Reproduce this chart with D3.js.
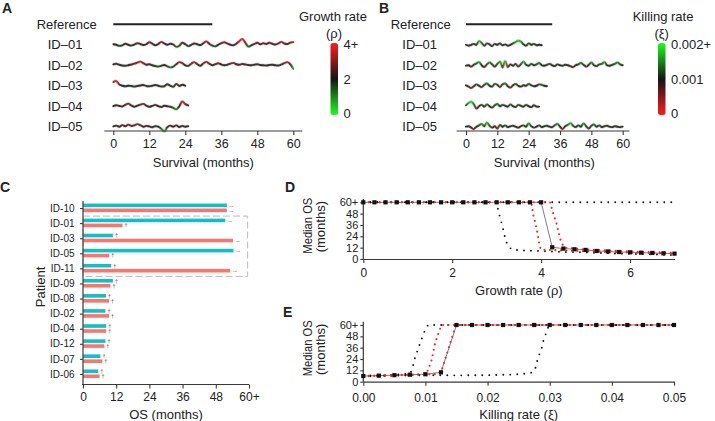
<!DOCTYPE html>
<html>
<head>
<meta charset="utf-8">
<script src="https://cdn.jsdelivr.net/npm/d3@7/dist/d3.min.js"></script>
<style>
html,body{margin:0;padding:0;background:#fff;}
svg text{font-family:"Liberation Sans",Arial,Helvetica,sans-serif;fill:#222;}
</style>
</head>
<body>
<svg width="715" height="421"></svg>
<script>
// ================= DATA =================
// Panels A & B : simulated parameter traces along survival time (one value per month)
const traceIds = ["ID–01","ID–02","ID–03","ID–04","ID–05"];
const survivalTicks = [0,12,24,36,48,60];
const referenceSurvival = 33; // months

// growth rate rho
const growthRate01 = [2.2,2.0,1.6,1.8,2.4,2.0,1.7,2.1,2.6,2.3, 1.9,2.2,3.0,2.4,1.8,2.3,3.1,2.5,2.0,2.4, 2.1,1.2,1.6,2.8,2.2,1.5,2.0,2.5,2.2,1.9, 2.6,3.3,2.4,1.7,1.4,2.0,2.6,3.0,2.5,2.0, 1.8,2.4,3.4,4.2,2.8,1.3,1.8,2.3,2.8,2.2, 2.6,2.3,2.8,2.4,2.1,2.5,3.1,2.5,2.3,2.8, 3.0];
const growthRate02 = [2.3,2.6,2.2,1.9,1.8,2.0,2.3,2.6,3.0,3.4, 2.8,2.2,2.4,2.0,1.7,1.5,1.8,2.1,1.6,1.2, 1.5,2.4,3.2,2.8,2.0,1.8,2.6,3.2,2.4,1.8, 2.7,3.3,2.6,2.0,2.4,2.8,2.3,2.0,2.2,2.6, 2.9,2.4,2.2,2.5,2.3,2.1,2.0,2.2,2.4,2.1, 2.0,1.9,2.1,2.2,2.0,1.9,2.3,2.8,3.2,2.4, 0.6];
const growthRate03 = [3.4,3.8,2.5,2.0,1.8,2.0,1.9,1.7,1.9,2.1, 2.3,1.9,1.8,2.0,2.3,2.0,1.7,1.8,2.6,2.0, 1.6,2.7,1.9,2.4,2.0];
const growthRate04 = [2.0,2.4,2.1,1.9,2.5,3.0,2.3,1.8,2.2,2.6, 2.9,2.2,1.8,2.1,2.5,2.0,1.7,2.2,2.0,1.8, 1.4,0.8,2.0,3.8,2.8,2.3];
const growthRate05 = [2.1,2.4,2.0,2.6,2.2,2.8,2.3,2.5,3.0,2.6, 2.0,2.3,2.1,1.8,2.2,2.0,1.2,0.2,1.8,2.4, 2.0,2.5,1.9,2.3,2.0,2.2];
const growthTraces = [growthRate01,growthRate02,growthRate03,growthRate04,growthRate05];
const growthLegendValues = [0,2,4];
const growthLegendLabels = ["0","2","4+"];

// killing rate xi (in units of 1e-3)
const killingRate01 = [1.0,0.8,1.0,1.2,1.0,1.8,1.4,0.8,1.3,1.1, 0.7,1.2,1.0,1.3,0.9,1.1,0.8,1.0,1.3,1.6, 1.9,1.7,1.1,0.8,1.3,1.0,1.2,0.9,1.0,0.9];
const killingRate02 = [0.9,1.0,0.7,1.1,1.4,1.7,1.0,0.6,1.2,1.6, 1.2,0.7,1.3,1.8,0.5,1.9,0.6,1.2,0.9,1.3, 0.7,1.2,1.8,1.1,0.9,1.3,1.0,1.2,1.5,1.0, 0.9,1.1,1.3,1.0,0.8,1.2,1.0,0.9,1.1,1.0, 0.8,0.6,1.0,1.2,1.5,1.1,0.7,1.1,1.6,1.0, 0.8,1.2,1.3,1.7,1.0,0.9,1.1,1.3,1.6,1.2, 1.0];
const killingRate03 = [1.1,0.8,0.5,0.9,1.3,1.0,0.7,1.2,1.5,1.0, 0.8,1.4,1.2,0.7,1.3,1.5,0.9,0.6,1.1,1.4, 1.0,0.8,1.1,1.0,1.4,1.1,0.9,1.0,1.3,1.2, 1.0,0.9];
const killingRate04 = [1.2,1.7,2.0,1.4,0.5,1.0,1.3,0.9,1.4,1.0, 0.7,1.2,1.5,1.0,1.3,1.1,0.9,1.4,1.0,0.8, 1.3,1.1,0.9,1.3,1.0,0.8,1.2,0.9,0.9];
const killingRate05 = [1.0,1.1,0.8,0.5,1.0,1.3,1.6,1.1,1.9,1.2, 0.8,1.1,0.6,1.4,1.0,1.3,0.9,1.1,1.2,1.0, 0.8,1.1,1.3,1.0,1.7,1.1,0.8,1.0,1.3,0.9, 1.1,1.2,1.0,0.9,1.3,1.6,1.0,0.5,1.1,1.4, 1.8,1.2,0.9,1.3,1.0,1.7,1.1,0.6,1.2,1.5, 1.0,1.3,0.9,1.1,1.2,1.0,0.9,1.1,1.0,0.9, 1.0];
const killingTraces = [killingRate01,killingRate02,killingRate03,killingRate04,killingRate05].map(a => a.map(v => v / 1000));
const killingLegendValues = [0,0.001,0.002];
const killingLegendLabels = ["0","0.001","0.002+"];

// Panel C : overall survival per patient
const osPatients = ["ID-10","ID-01","ID-03","ID-05","ID-11","ID-09","ID-08","ID-02","ID-04","ID-12","ID-07","ID-06"];
const osCyan   = [52,51.4,10.8,54.4,10.2,10.8,8.3,8.1,8.4,8.1,6.3,5.5];
const osSalmon = [52,14.3,54.2,9.5,53.2,9.9,9.4,9.4,8.4,7.7,7.0,6.0];
const osCyanMark   = ["→","→","†","→","†","†","†","†","†","†","†","†"];
const osSalmonMark = ["→","†","→","†","→","†","†","†","†","†","†","†"];
const osBoxed = ["ID-01","ID-03","ID-05","ID-11"];
const osTicks = [0,12,24,36,48,60];
const osTickLabels = ["0","12","24","36","48","60+"];

// Panel D : median OS vs growth rate
const growthGrid = [0,0.25,0.5,0.75,1,1.25,1.5,1.75,2,2.25,2.5,2.75,3,3.25,3.5,3.75,4,4.25,4.5,4.75,5,5.25,5.5,5.75,6,6.25,6.5,6.75,7];
const medianOSGrowth = [60,60,60,60,60,60,60,60,60,60,60,60,60,60,60,60,60,12.4,11,10.3,9.6,8.5,8,7.4,7.1,6.7,6.4,6,5.7];
const growthRedAX = [0,3.78,3.82,3.88,3.92,3.95,3.99,4.25,4.5,5,5.5,6,6.5,7];
const growthRedAY = [60,60,47,36,27,18,10,9.5,9,8.2,7.5,6.8,6.2,5.6];
const growthRedBX = [0,4.2,4.28,4.35,4.4,4.45,4.52,4.75,5,5.5,6,6.5,7];
const growthRedBY = [60,60,47,37,27,18,12,11,10,9,8,7.2,6.5];
const growthBlackAX = [0,3.0,3.04,3.11,3.16,3.2,3.26,3.34,3.6,4,4.5,5,5.5,6,6.5,7];
const growthBlackAY = [60,60,50,38,29,20,13.6,10,9,8.5,7.5,7,6,5.5,5,4];
const growthBlackBX = [0,7];
const growthBlackBY = [60,60];
const growthAxisTicks = [0,2,4,6];

// Panel E : median OS vs killing rate
const killGrid = [0,0.0025,0.005,0.0075,0.01,0.0125,0.015,0.0175,0.02,0.0225,0.025,0.0275,0.03,0.0325,0.035,0.0375,0.04,0.0425,0.045,0.0475,0.05];
const medianOSKill = [6.0,6.4,6.9,7.4,7.9,9.9,60,60,60,60,60,60,60,60,60,60,60,60,60,60,60];
const killRedAX = [0,0.0025,0.005,0.0075,0.0099,0.0104,0.011,0.0115,0.0119,0.0126,0.05];
const killRedAY = [6.2,6.6,7.1,7.6,7.8,12,23,39,48,60,60];
const killRedBX = [0,0.0025,0.005,0.0075,0.01,0.0115,0.0125,0.0149,0.05];
const killRedBY = [5.8,6.2,6.7,7.2,7.7,8,9.5,60,60];
const killBlackAX = [0,0.0025,0.005,0.0075,0.0078,0.0083,0.0091,0.0099,0.0104,0.05];
const killBlackAY = [6.3,6.8,7.3,8.5,12,25,40,54,60,60];
const killBlackBX = [0,0.0025,0.005,0.0075,0.01,0.015,0.02,0.024,0.026,0.027,0.0276,0.0281,0.0287,0.029,0.0295,0.0299,0.05];
const killBlackBY = [5.6,6,6.4,6.8,6.9,6.7,6.9,7.5,8.5,9.5,12,25,35,44,53,60,60];
const killAxisTicks = [0,0.01,0.02,0.03,0.04,0.05];

// ================= DRAWING =================
const svg = d3.select("svg");
const defs = svg.append("defs");
const AX = "#3a3a3a";

function styleAxis(g, fs) {
  g.select(".domain").attr("stroke", AX).attr("stroke-width", 1.2);
  g.selectAll(".tick line").attr("stroke", AX).attr("stroke-width", 1.1);
  g.selectAll(".tick text").attr("font-size", fs).attr("font-family", null).style("fill", "#222");
  g.attr("font-family", null);
}
function panelLabel(t, x, y) {
  svg.append("text").attr("x", x).attr("y", y).attr("font-size", 14).attr("font-weight", "bold").text(t);
}

// ---------- Panels A and B ----------
function tracePanel(cfg) {
  const g = svg.append("g");
  const x = d3.scaleLinear().domain([0, 60]).range(cfg.xRange);
  const rows = ["Reference", ...traceIds];
  const y = d3.scalePoint().domain(rows).range([24.3, 126.7]);
  const dev = d3.scaleLinear().domain([cfg.mid - cfg.unit, cfg.mid + cfg.unit]).range([cfg.k, -cfg.k]);
  const color = d3.scaleLinear().domain(cfg.colorDomain).range(cfg.colorRange).clamp(true);

  g.selectAll("text.row").data(rows).join("text")
    .attr("x", d => d === "Reference" ? cfg.refX : cfg.idX)
    .attr("y", d => y(d) + 4.6).attr("font-size", 13).text(d => d);

  g.append("line").attr("x1", x(0)).attr("x2", x(referenceSurvival))
    .attr("y1", y("Reference")).attr("y2", y("Reference"))
    .attr("stroke", "#222").attr("stroke-width", 2);

  const line = d3.line().curve(d3.curveCatmullRom.alpha(0.5));
  cfg.series.forEach((vals, i) => {
    const yc = y(traceIds[i]);
    const pts = vals.map((v, m) => [x(m), yc + dev(v)]);
    const gid = cfg.prefix + i;
    const grad = defs.append("linearGradient").attr("id", gid)
      .attr("gradientUnits", "userSpaceOnUse")
      .attr("x1", x(0)).attr("x2", x(vals.length - 1)).attr("y1", 0).attr("y2", 0);
    vals.forEach((v, m) => grad.append("stop")
      .attr("offset", m / (vals.length - 1)).attr("stop-color", color(v)));
    g.append("path").attr("d", line(pts)).attr("fill", "none")
      .attr("stroke", "#9a9a9a").attr("stroke-opacity", 0.35).attr("stroke-width", 3.4);
    g.append("path").attr("d", line(pts)).attr("fill", "none")
      .attr("stroke", `url(#${gid})`).attr("stroke-width", 1.9)
      .attr("stroke-linejoin", "round").attr("stroke-linecap", "round");
  });

  const ag = g.append("g").attr("transform", "translate(0,131)")
    .call(d3.axisBottom(x).tickValues(survivalTicks).tickSize(4).tickPadding(4).tickSizeOuter(0));
  ag.select(".domain").attr("d", `M${x(cfg.axisExt[0])},0H${x(cfg.axisExt[1])}`);
  styleAxis(ag, 12.5);
  g.append("text").attr("x", x(30)).attr("y", 167).attr("text-anchor", "middle")
    .attr("font-size", 13).text("Survival (months)");

  // legend
  const lg = g.append("g");
  lg.append("text").attr("x", cfg.legTitleX).attr("y", 20.5).attr("font-size", 13).text(cfg.legTitle);
  lg.append("text").attr("x", cfg.legSymX).attr("y", 37.5).attr("text-anchor", "middle").attr("font-size", 13).text(cfg.legSym);
  const ly = d3.scaleLinear().domain([cfg.colorDomain[0], cfg.colorDomain[2]]).range([113.5, 44.5]);
  const bid = cfg.prefix + "bar";
  const bg = defs.append("linearGradient").attr("id", bid).attr("x1", 0).attr("x2", 0).attr("y1", 0).attr("y2", 1);
  const barStops = [1, 0.85, 0.5, 0.15, 0];
  barStops.forEach(f => {
    const v = cfg.colorDomain[0] + f * (cfg.colorDomain[2] - cfg.colorDomain[0]);
    bg.append("stop").attr("offset", 1 - f).attr("stop-color", d3.scaleLinear().domain(cfg.colorDomain).range(cfg.barRange)(v));
  });
  lg.append("rect").attr("x", cfg.barX).attr("y", ly(cfg.colorDomain[2]) - 1.5).attr("width", 7.5)
    .attr("height", ly(cfg.colorDomain[0]) - ly(cfg.colorDomain[2]) + 3).attr("rx", 2.5).attr("fill", `url(#${bid})`);
  lg.selectAll("text.lab").data(cfg.legValues).join("text")
    .attr("x", cfg.barX + 13).attr("y", d => ly(d) + 4.6).attr("font-size", 13)
    .text((d, i) => cfg.legLabels[i]);
}

tracePanel({
  xRange: [113.3, 293.3], refX: 36.7, idX: 47.7, axisExt: [-3, 63],
  series: growthTraces, mid: 2, unit: 1, k: 2.6,
  colorDomain: [0, 2, 4], colorRange: ["#2fe02f", "#2e2e2e", "#ee3030"],
  barRange: ["#1cff1c", "#141414", "#ff1c1c"],
  prefix: "ga", legTitle: "Growth rate", legTitleX: 299, legSym: "(ρ)", legSymX: 334,
  barX: 330.5, legValues: growthLegendValues, legLabels: growthLegendLabels
});
tracePanel({
  xRange: [466, 622.7], refX: 390.7, idX: 402.3, axisExt: [-3.6, 62.6],
  series: killingTraces, mid: 0.001, unit: 0.001, k: 4.5,
  colorDomain: [0, 0.001, 0.002], colorRange: ["#ee3030", "#2e2e2e", "#2fe02f"],
  barRange: ["#ff1c1c", "#141414", "#1cff1c"],
  prefix: "kb", legTitle: "Killing rate", legTitleX: 632.7, legSym: "(ξ)", legSymX: 661.7,
  barX: 658, legValues: killingLegendValues, legLabels: killingLegendLabels
});
panelLabel("A", 2, 13);
panelLabel("B", 379, 13);

// ---------- Panel C ----------
(function () {
  const g = svg.append("g");
  const x = d3.scaleLinear().domain([0, 60]).range([83, 249]);
  const y = d3.scaleBand().domain(osPatients).range([201, 382]);
  const bh = 3.6;
  const cyan = "#14bec6", salmon = "#f8766d";

  // dashed box
  g.append("rect").attr("x", x(0)).attr("y", y(osBoxed[0]))
    .attr("width", x(59.5) - x(0))
    .attr("height", y(osBoxed[osBoxed.length - 1]) + y.bandwidth() - y(osBoxed[0]))
    .attr("fill", "none").attr("stroke", "#bdbdbd").attr("stroke-width", 1).attr("stroke-dasharray", "7,3");

  const c = d => y(d) + y.bandwidth() / 2;
  g.selectAll("rect.cy").data(osPatients).join("rect")
    .attr("x", x(0)).attr("y", d => c(d) - 5).attr("height", bh)
    .attr("width", (d, i) => x(osCyan[i]) - x(0)).attr("fill", cyan);
  g.selectAll("rect.sa").data(osPatients).join("rect")
    .attr("x", x(0)).attr("y", d => c(d)).attr("height", bh)
    .attr("width", (d, i) => x(osSalmon[i]) - x(0)).attr("fill", salmon);

  function marks(vals, mk, top) {
    const sel = g.selectAll(null).data(osPatients).join("text")
      .attr("x", (d, i) => x(vals[i]) + (mk[i] === "→" ? 1 : 2))
      .attr("y", (d, i) => c(d) + top + bh / 2 + (mk[i] === "→" ? 1.6 : 1.9))
      .attr("font-size", (d, i) => mk[i] === "→" ? 4.8 : 5.4)
      .style("fill", "#444")
      .text((d, i) => mk[i]);
    sel.filter((d, i) => mk[i] === "→").attr("textLength", 7).attr("lengthAdjust", "spacingAndGlyphs");
  }
  marks(osCyan, osCyanMark, -5);
  marks(osSalmon, osSalmonMark, 0);

  const yg = g.append("g").attr("transform", `translate(${x(0)},0)`)
    .call(d3.axisLeft(y).tickSize(3).tickPadding(5.5).tickSizeOuter(0));
  yg.select(".domain").attr("d", "M0,201V384.5");
  styleAxis(yg, 10);
  const xg = g.append("g").attr("transform", "translate(0,384.5)")
    .call(d3.axisBottom(x).tickValues(osTicks).tickFormat((d, i) => osTickLabels[i]).tickSize(4).tickPadding(4).tickSizeOuter(0));
  xg.select(".domain").attr("d", `M${x(0) - 1},0H${x(60)}`);
  styleAxis(xg, 12);
  g.append("text").attr("x", x(30)).attr("y", 418.5).attr("text-anchor", "middle").attr("font-size", 13).text("OS (months)");
  g.append("text").attr("transform", "translate(44.5,287) rotate(-90)").attr("text-anchor", "middle").attr("font-size", 13).text("Patient");
})();
panelLabel("C", 0, 192);

// ---------- Panels D and E ----------
function osPanel(cfg) {
  const g = svg.append("g");
  const x = d3.scaleLinear().domain(cfg.xDomain).range(cfg.xRange);
  const y = d3.scaleLinear().domain([0, 60]).range(cfg.yRange);

  const xg = g.append("g").attr("transform", `translate(0,${cfg.yRange[0]})`)
    .call(d3.axisBottom(x).tickValues(cfg.xTicks).tickFormat(cfg.xFmt).tickSize(4).tickPadding(cfg.xPad).tickSizeOuter(0));
  styleAxis(xg, 12);
  const yg = g.append("g").attr("transform", `translate(${cfg.xRange[0]},0)`)
    .call(d3.axisLeft(y).tickValues(osTicks).tickFormat((d, i) => osTickLabels[i]).tickSize(3).tickPadding(2).tickSizeOuter(0));
  yg.select(".domain").attr("d", `M0,${y(0)}V${y(63.5)}`);
  styleAxis(yg, 11);

  const ln = d3.line().x(d => x(d[0])).y(d => y(d[1]));
  const zip = (a, b) => a.map((v, i) => [v, b[i]]);
  const med = zip(cfg.grid, cfg.median);
  g.append("path").attr("d", ln(med)).attr("fill", "none").attr("stroke", "#808080").attr("stroke-width", 1);
  cfg.black.forEach(([a, b]) => g.append("path").attr("d", ln(zip(a, b))).attr("fill", "none")
    .attr("stroke", "#111").attr("stroke-width", 1.9).attr("stroke-linecap", "round").attr("stroke-dasharray", "0,7"));
  cfg.red.forEach(([a, b]) => g.append("path").attr("d", ln(zip(a, b))).attr("fill", "none")
    .attr("stroke", "#ff2222").attr("stroke-width", 2.1).attr("stroke-linecap", "round").attr("stroke-dasharray", "0,5.5"));
  g.selectAll("rect.sq").data(med).join("rect")
    .attr("x", d => x(d[0]) - 2.1).attr("y", d => y(d[1]) - 2.1).attr("width", 4.2).attr("height", 4.2).attr("fill", "#111");

  g.append("text").attr("x", (cfg.xRange[0] + cfg.xRange[1]) / 2).attr("y", cfg.titleY)
    .attr("text-anchor", "middle").attr("font-size", 13).text(cfg.title);
  const cy = (cfg.yRange[0] + cfg.yRange[1]) / 2 - 5;
  g.append("text").attr("transform", `translate(311.5,${cy}) rotate(-90)`).attr("text-anchor", "middle")
    .attr("font-size", 13).attr("textLength", 56).attr("lengthAdjust", "spacingAndGlyphs").text("Median OS");
  g.append("text").attr("transform", `translate(325,${cy + 1}) rotate(-90)`).attr("text-anchor", "middle")
    .attr("font-size", 13).text("(months)");
}

osPanel({
  xDomain: [0, 7], xRange: [363.3, 674.5], yRange: [259, 202.3],
  xTicks: growthAxisTicks, xFmt: d3.format("d"), xPad: 5.5,
  grid: growthGrid, median: medianOSGrowth,
  red: [[growthRedAX, growthRedAY], [growthRedBX, growthRedBY]],
  black: [[growthBlackAX, growthBlackAY], [growthBlackBX, growthBlackBY]],
  title: "Growth rate (ρ)", titleY: 294.5
});
osPanel({
  xDomain: [0, 0.05], xRange: [363.3, 674], yRange: [381.7, 325],
  xTicks: killAxisTicks, xFmt: d3.format(".2f"), xPad: 7.5,
  grid: killGrid, median: medianOSKill,
  red: [[killRedAX, killRedAY], [killRedBX, killRedBY]],
  black: [[killBlackAX, killBlackAY], [killBlackBX, killBlackBY]],
  title: "Killing rate (ξ)", titleY: 418.5
});
panelLabel("D", 285, 192);
panelLabel("E", 283, 317);
</script>
</body>
</html>
